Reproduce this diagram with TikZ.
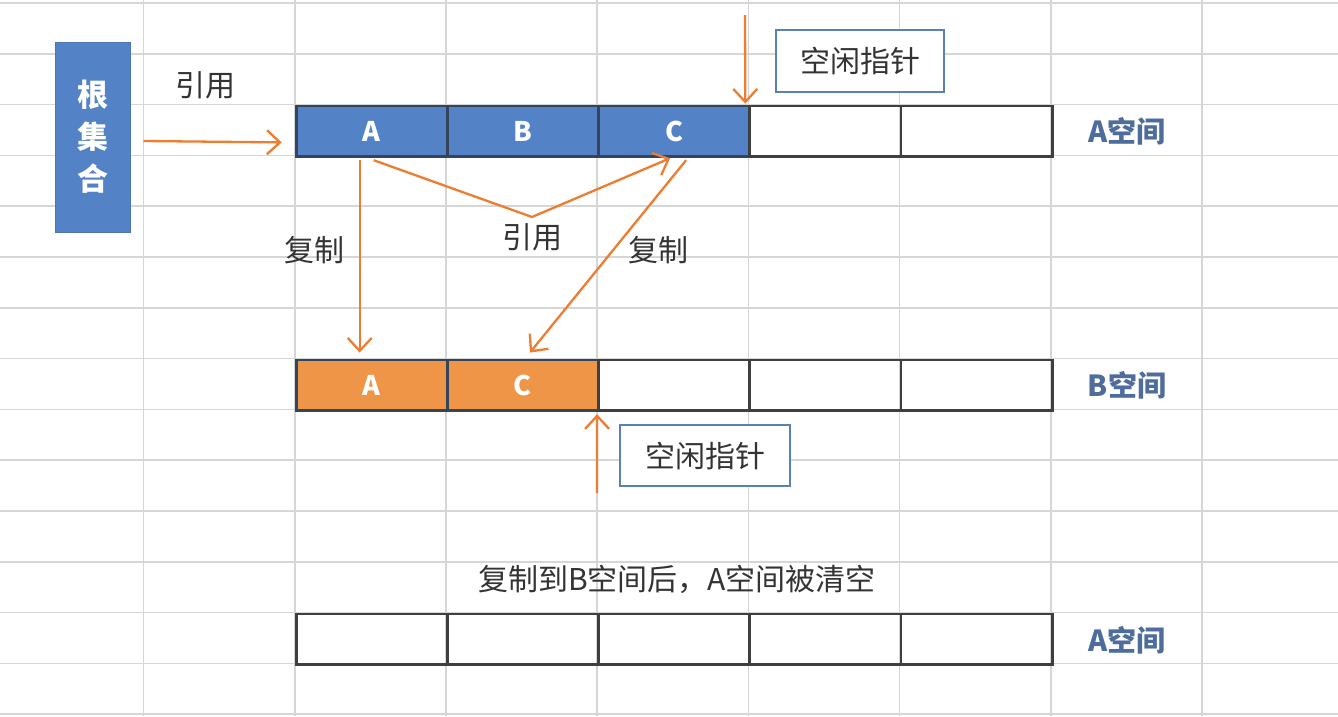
\documentclass[tikz,border=0pt]{standalone}
\usepackage{fontspec}
\setmainfont{Noto Sans CJK SC}
\usetikzlibrary{arrows.meta,calc}
\definecolor{gridc}{HTML}{D6D6D6}
\definecolor{cellblue}{HTML}{5383C6}
\definecolor{cellorange}{HTML}{EF9548}
\definecolor{arrc}{HTML}{ED7D31}
\definecolor{cellline}{HTML}{3F3F3F}
\definecolor{bluecellline}{HTML}{34445A}
\definecolor{boxblue}{HTML}{5B80B8}
\definecolor{labblue}{HTML}{4E6C9C}
\definecolor{txt}{HTML}{333333}
\tikzset{
  gridline/.style={draw=gridc, line width=1.6pt},
  cell/.style={draw=cellline, line width=2.8pt, minimum width=151.2pt, minimum height=50.8pt, inner sep=0pt, anchor=north west, font=\fontsize{27}{27}\selectfont\bfseries, text=white},
  fullcell/.style={cell, fill=cellblue, draw=bluecellline},
  copycell/.style={cell, fill=cellorange, draw=bluecellline},
  arr/.style={draw=arrc, line width=2.3pt, -{Straight Barb[length=13pt,width=24pt,line width=2.3pt]}},
  lbl/.style={text=txt, font=\fontsize{30}{30}\selectfont, inner sep=0pt},
  spacelbl/.style={text=labblue, font=\fontsize{29}{29}\selectfont\bfseries, inner sep=0pt},
  ptrbox/.style={draw=boxblue, line width=2.8pt, fill=white, text=txt, font=\fontsize{30}{30}\selectfont, inner sep=0pt},
  rootbox/.style={draw=cellblue!90!black, line width=1pt, fill=cellblue, text=white, font=\fontsize{31}{42}\selectfont\bfseries, minimum width=75pt, minimum height=190pt, inner sep=0pt, align=center}
}
\begin{document}
\begin{tikzpicture}[x=1pt,y=-1pt]
\useasboundingbox[fill=white] (0,0) rectangle (1338,716);
% spreadsheet grid
\foreach \k in {0,...,14} \draw[gridline] (0,{3+50.8*\k}) -- (1338,{3+50.8*\k});
\foreach \k in {0,...,7} \draw[gridline] ({143.5+151.2*\k},0) -- ({143.5+151.2*\k},716);
% root set
\node[rootbox] (root) at (92.5,137) {根\\集\\合};
% A space (top)
\node[fullcell] (a1) at (294.7,104.6) {A};
\node[fullcell] (a2) at (445.9,104.6) {B};
\node[fullcell] (a3) at (597.1,104.6) {C};
\node[cell] (a4) at (748.3,104.6) {};
\node[cell] (a5) at (899.5,104.6) {};
% B space
\node[copycell] (b1) at (294.7,358.6) {A};
\node[copycell] (b2) at (445.9,358.6) {C};
\node[cell] (b3) at (597.1,358.6) {};
\node[cell] (b4) at (748.3,358.6) {};
\node[cell] (b5) at (899.5,358.6) {};
% A space cleared
\node[cell] (c1) at (294.7,612.6) {};
\node[cell] (c2) at (445.9,612.6) {};
\node[cell] (c3) at (597.1,612.6) {};
\node[cell] (c4) at (748.3,612.6) {};
\node[cell] (c5) at (899.5,612.6) {};
% space labels
\node[spacelbl] (la) at (1127,131) {A空间};
\node[spacelbl] (lb) at (1127,385) {B空间};
\node[spacelbl] (lc) at (1127,640) {A空间};
% free pointers
\node[ptrbox, minimum width=168pt, minimum height=62pt] (fp1) at (860,61) {空闲指针};
\node[ptrbox, minimum width=170pt, minimum height=61pt] (fp2) at (705,455.5) {空闲指针};
\coordinate (fp1s) at (745,15);
\coordinate (fp2s) at (597,493);
\draw[arr] (fp1s) -- ([xshift=-3pt,yshift=1pt]a4.north west);
\draw[arr] (fp2s) -- ([yshift=-2pt]b3.south west);
% root reference
\node[lbl] (lref1) at (205,85) {引用};
\draw[arr] ($(root.east)+(13,4)$) -- ($(a1.west)+(-13,11)$);
% reference A -> C
\coordinate (mid) at (532,217);
\node[lbl] (lref2) at (532,237) {引用};
\draw[arr] ($(a1.south)+(2,2)$) -- (mid) -- ($(a3.south)+(-4,0)$);
% copies
\node[lbl] (lcp1) at (314,250) {复制};
\node[lbl] (lcp2) at (658,250) {复制};
\draw[arr] ($(a1.south)+(-12,2)$) -- ($(b1.north)+(-12,-6)$);
\draw[arr] ($(a3.south)+(12,2)$) -- ($(b2.north)+(7,-6)$);
% caption
\node[lbl] (cap) at (677,579) {复制到B空间后，A空间被清空};
\end{tikzpicture}
\end{document}
